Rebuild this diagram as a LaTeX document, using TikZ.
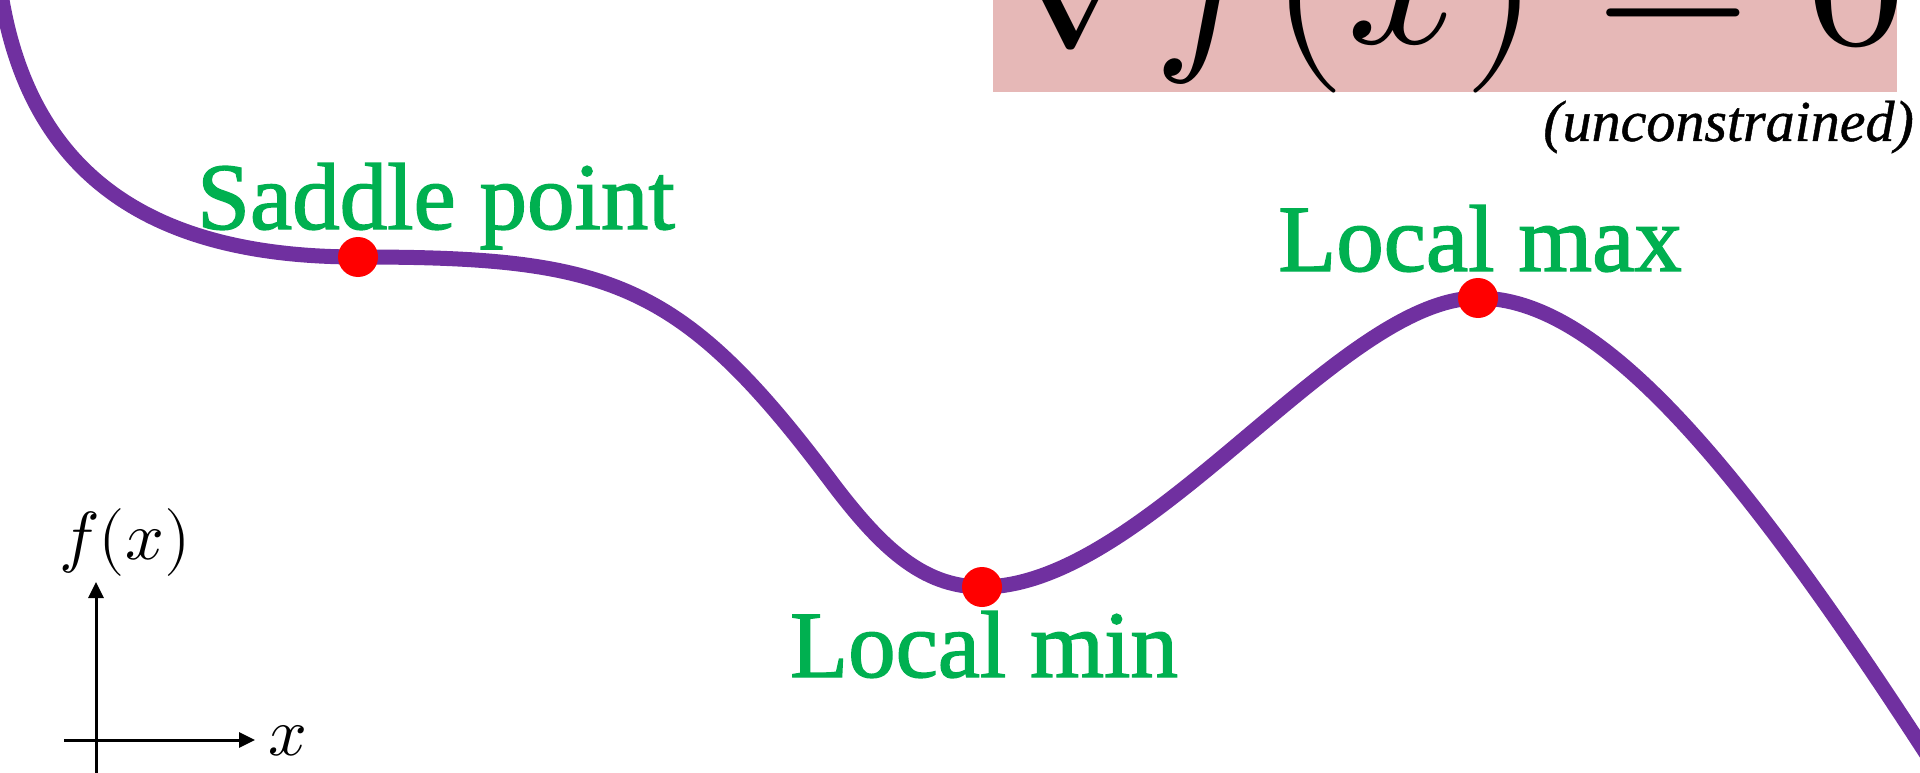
\documentclass[tikz,border=0pt]{standalone}
\usepackage{fontspec}
\usepackage{unicode-math}
\setmathfont{Latin Modern Math}
\usetikzlibrary{arrows.meta}
\newfontfamily\lblfont[FakeBold=1.5]{Liberation Serif}
\newfontfamily\uncfont[FakeBold=0.8]{Liberation Serif}
\definecolor{curvepurple}{HTML}{7030A0}
\definecolor{lblgreen}{HTML}{00B050}
\definecolor{boxpink}{HTML}{E6B8B7}
\begin{document}
\begin{tikzpicture}[x=1pt,y=-1pt,
  curve/.style={draw=curvepurple, line width=15pt},
  crit/.style={circle, fill=red, minimum size=40pt, inner sep=0pt},
  lbl/.style={text=lblgreen, font=\lblfont\fontsize{95}{100}\selectfont, inner sep=0pt, anchor=base},
  axis/.style={line width=3pt, -{Triangle[length=16pt,width=15pt]}},
  mathlbl/.style={font=\fontsize{68}{72}\selectfont, inner sep=0pt}]
\useasboundingbox (0,0) rectangle (1920,773);
\clip (0,0) rectangle (1920,773);
% formula box
\node[fill=boxpink, minimum width=904pt, minimum height=110pt, inner sep=0pt, anchor=south west] (box) at (993,92) {};
\node[inner sep=0pt, anchor=base west, font=\fontsize{200}{210}\selectfont] (eq) at (987,44) {$\nabla f(x) = 0$};
\node[font=\uncfont\itshape\fontsize{58}{60}\selectfont, anchor=base east, inner sep=0pt] (unc) at (1914,141) {(unconstrained)};
% critical points
\coordinate (top) at (-1,-17);
\coordinate (start) at (2,0);
\coordinate (s) at (358,257);
\coordinate (i1) at (830,480);
\coordinate (m) at (982,587);
\coordinate (M) at (1478,298);
\coordinate (end) at (1935,767);
% curve
\draw[curve] (top) -- (start)
  .. controls (35,190) and (170,257) .. (s)
  .. controls (608,257) and (680,280) .. (i1)
  .. controls (880,546.5) and (922,587) .. (m)
  .. controls (1147,587) and (1339,298) .. (M)
  .. controls (1598,298) and (1735,457) .. (end);
\node[crit] (saddle) at (s) {};
\node[crit] (lmin) at (m) {};
\node[crit] (lmax) at (M) {};
% labels
\node[lbl] (saddlelbl) at (436,229) {Saddle point};
\node[lbl] (maxlbl) at (1480,271) {Local max};
\node[lbl] (minlbl) at (984,677) {Local min};
% axes
\coordinate (ystart) at (96,780);
\coordinate (yend) at (96,582);
\coordinate (xstart) at (64,740);
\coordinate (xend) at (255,740);
\draw[axis] (ystart) -- (yend);
\draw[axis] (xstart) -- (xend);
\node[mathlbl, anchor=base] (fx) at (125,559) {$f(x)$};
\node[mathlbl, anchor=base west] (xl) at (268,755) {$x$};
\end{tikzpicture}
\end{document}
